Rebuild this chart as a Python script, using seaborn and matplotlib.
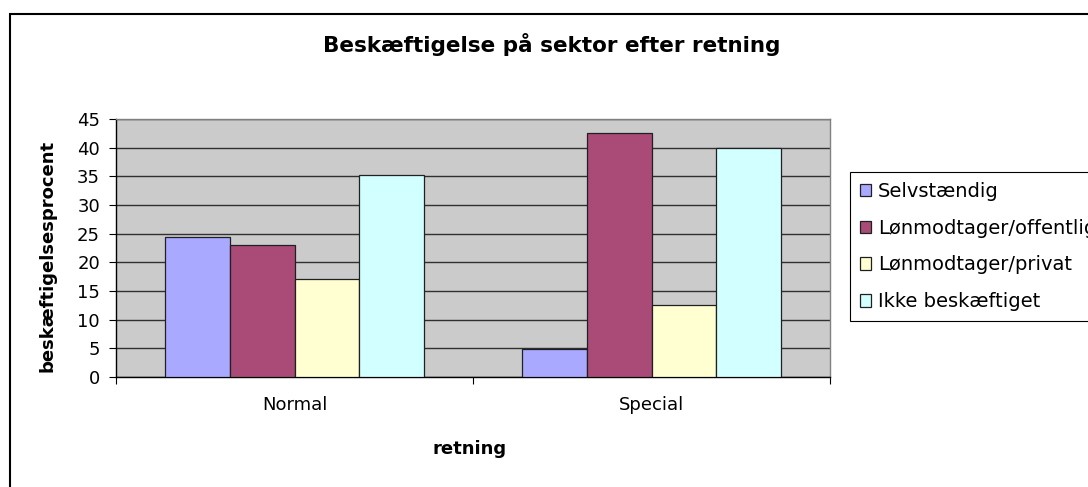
import pandas as pd
import matplotlib
matplotlib.use("Agg")
import matplotlib.pyplot as plt
import seaborn as sns
from matplotlib.patches import Rectangle

# data
retninger = ["Normal", "Special"]
sektorer = ["Selvstændig", "Lønmodtager/offentlig", "Lønmodtager/privat", "Ikke beskæftiget"]
selvstaendig = [24.4, 4.8]
offentlig = [23.0, 42.5]
privat = [17.1, 12.5]
ikke_beskaeftiget = [35.2, 40.0]
farver = ["#A9A9FF", "#AA4A77", "#FFFFD2", "#D2FFFF"]

rows = []
for serie, vals in zip(sektorer, [selvstaendig, offentlig, privat, ikke_beskaeftiget]):
    for r, v in zip(retninger, vals):
        rows.append({"retning": r, "sektor": serie, "procent": v})
df = pd.DataFrame(rows)

sns.set_style("white")
plt.rcParams["font.family"] = ["DejaVu Sans"]

W, H = 1088, 487
fig = plt.figure(figsize=(W / 100, H / 100), dpi=100)
ax = fig.add_axes([116 / W, 1 - 377 / H, (830 - 116) / W, (377 - 119) / H])
ax.set_facecolor("#CBCBCB")

sns.barplot(data=df, x="retning", y="procent", hue="sektor", order=retninger,
            hue_order=sektorer, palette=dict(zip(sektorer, farver)), saturation=1,
            width=0.727, edgecolor="#202020", linewidth=0.9, ax=ax, zorder=3)

ax.set_ylim(0, 45)
ax.set_yticks(range(0, 46, 5))
ax.set_xlim(-0.5, 1.5)
ax.yaxis.grid(True, color="#303030", linewidth=1.0, zorder=0)
ax.set_axisbelow(True)
ax.tick_params(axis="y", direction="out", length=5, width=0.8, color="black",
               labelsize=13, pad=6.5, left=True, labelcolor="black")
ax.tick_params(axis="x", which="major", length=0, labelsize=13, pad=14,
               labelcolor="black")
ax.set_xticks([-0.5, 0.5, 1.5], minor=True)
ax.tick_params(axis="x", which="minor", direction="out", length=5, width=0.8,
               color="black", bottom=True)

for s in ["left", "bottom"]:
    ax.spines[s].set_color("black")
    ax.spines[s].set_linewidth(1)
for s in ["top", "right"]:
    ax.spines[s].set_color("#808080")
    ax.spines[s].set_linewidth(1)

ax.set_ylabel("beskæftigelsesprocent", fontsize=13, fontweight="bold", color="black")
ax.set_xlabel("retning", fontsize=13, fontweight="bold", color="black")
ax.yaxis.set_label_coords((57 - 116) / 714, (377 - 256) / 258)
ax.xaxis.set_label_coords((470 - 116) / 714, (377 - 440) / 258)

fig.text(552 / W, 1 - 44 / H, "Beskæftigelse på sektor efter retning",
         ha="center", va="center", fontsize=15.5, fontweight="bold", color="black")

# legend box runs past the right edge, like in the cropped reference
handles, labels = ax.get_legend_handles_labels()
ax.legend_.remove()
leg = fig.legend(handles, labels, loc="upper left",
                 bbox_to_anchor=(850 / W, 1 - 172 / H), bbox_transform=fig.transFigure,
                 fontsize=14, frameon=True, fancybox=False, framealpha=1,
                 edgecolor="black", handlelength=0.6, handleheight=0.6,
                 handletextpad=0.35, labelspacing=0.92, borderpad=0.5,
                 borderaxespad=0)
leg.get_frame().set_linewidth(0.8)
for t in leg.get_texts():
    t.set_color("black")

# outer chart border (cut at right and bottom like the reference)
fig.patches.append(Rectangle((10 / W, -0.1), 1.2, 1.1 - 14 / H, transform=fig.transFigure,
                             fill=False, edgecolor="black", linewidth=1.5))

fig.savefig("out.png", dpi=100)
